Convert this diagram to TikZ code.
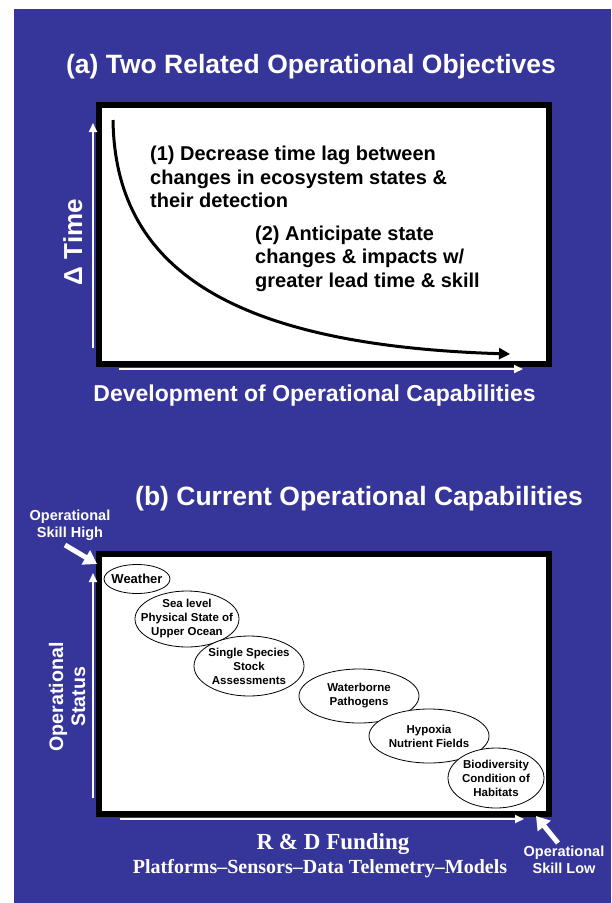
\documentclass[tikz,border=0pt]{standalone}
\usepackage{fontspec}
\setmainfont{Liberation Sans}
\newfontfamily\tmsfont{Liberation Serif}
\usetikzlibrary{arrows.meta,shapes.geometric}
\definecolor{bgblue}{RGB}{54,53,153}
\begin{document}
\begin{tikzpicture}[x=1pt,y=-1pt,
  wtxt/.style={text=white,inner sep=0pt},
  btxt/.style={text=black,inner sep=0pt,font=\fontsize{20}{24}\selectfont\bfseries,anchor=base west},
  panel/.style={draw=black,line width=6pt,fill=white,inner sep=0pt,rectangle},
  waxis/.style={draw=white,line width=2pt,-{Triangle[length=9pt,width=8pt]}},
  wpoint/.style={draw=white,line width=5pt,-{Triangle[length=13pt,width=16pt]}},
  oval/.style={ellipse,draw=black,line width=0.8pt,fill=white,inner sep=0pt},
  ovaltxt/.style={inner sep=0pt,align=center,font=\fontsize{11.5}{14}\selectfont\bfseries}
]
\useasboundingbox (0,0) rectangle (611,903);
\fill[white] (0,0) rectangle (611,903);
\fill[bgblue] (14,9) rectangle (611,903);

% ---------- panel (a) ----------
\node[wtxt,anchor=base,font=\fontsize{26.5}{30}\selectfont\bfseries] (ta) at (311,73) {(a) Two Related Operational Objectives};
\node[panel,minimum width=450,minimum height=259] (boxa) at (324,234.5) {};

\coordinate (c0) at (113,120);
\coordinate (c1) at (510,354);
\draw[line width=3pt,-{Triangle[length=11pt,width=11pt]}] (c0) .. controls (115,262) and (220,345) .. (c1);

\node[btxt] (l1) at (150,160) {(1) Decrease time lag between};
\node[btxt] (l2) at (150,184) {changes in ecosystem states \&};
\node[btxt] (l3) at (150,207) {their detection};
\node[btxt] (l4) at (255,240) {(2) Anticipate state};
\node[btxt] (l5) at (255,263) {changes \& impacts w/};
\node[btxt] (l6) at (255,287) {greater lead time \& skill};

\coordinate (ya0) at (93,348);
\coordinate (ya1) at (93,123);
\draw[waxis] (ya0) -- (ya1);
\coordinate (xa0) at (119,369);
\coordinate (xa1) at (523,369);
\draw[waxis] (xa0) -- (xa1);

\node[wtxt,anchor=base,rotate=90,font=\fontsize{26}{30}\selectfont\bfseries] (dt) at (82,242) {Δ Time};
\node[wtxt,anchor=base,font=\fontsize{23}{27}\selectfont\bfseries] (dev) at (314.5,401) {Development of Operational Capabilities};

% ---------- panel (b) ----------
\node[wtxt,anchor=base,font=\fontsize{26.5}{30}\selectfont\bfseries] (tb) at (359,505) {(b) Current Operational Capabilities};
\node[panel,minimum width=450,minimum height=260] (boxb) at (324,684) {};

\node[wtxt,anchor=base,font=\fontsize{14.5}{17}\selectfont\bfseries] (hi1) at (70,520) {Operational};
\node[wtxt,anchor=base,font=\fontsize{14.5}{17}\selectfont\bfseries] (hi2) at (70,537) {Skill High};
\coordinate (h0) at (65,545);
\coordinate (h1) at (97,564);
\draw[wpoint] (h0) -- (h1);

\coordinate (yb0) at (93,798);
\coordinate (yb1) at (93,573);
\draw[waxis] (yb0) -- (yb1);
\coordinate (xb0) at (120,819);
\coordinate (xb1) at (524,819);
\draw[waxis] (xb0) -- (xb1);

\node[wtxt,anchor=base,rotate=90,font=\fontsize{19.6}{22}\selectfont\bfseries] (os1) at (63,697) {Operational};
\node[wtxt,anchor=base,rotate=90,font=\fontsize{19.6}{22}\selectfont\bfseries] (os2) at (85,697) {Status};

\node[oval,minimum width=66,minimum height=29] (e1) at (137,579) {};
\node[inner sep=0pt,font=\fontsize{13}{15}\selectfont\bfseries] (t1) at (e1) {Weather};
\node[oval,minimum width=104,minimum height=56] (e2) at (187,619) {};
\node[ovaltxt] (t2) at (e2) {Sea level\\Physical State of\\Upper Ocean};
\node[oval,minimum width=110,minimum height=60] (e3) at (249,666) {};
\node[ovaltxt] (t3) at (e3) {Single Species\\Stock\\Assessments};
\node[oval,minimum width=120,minimum height=54] (e4) at (359,696) {};
\node[ovaltxt] (t4) at (e4) {Waterborne\\Pathogens};
\node[oval,minimum width=120,minimum height=54] (e5) at (429,736) {};
\node[ovaltxt] (t5) at (e5) {Hypoxia\\Nutrient Fields};
\node[oval,minimum width=96,minimum height=60] (e6) at (496,778) {};
\node[ovaltxt] (t6) at (e6) {Biodiversity\\Condition of\\Habitats};

\node[wtxt,anchor=base,font=\fontsize{23}{27}\selectfont\bfseries\tmsfont] (rd) at (333,849) {R \& D Funding};
\node[wtxt,anchor=base,font=\fontsize{20}{24}\selectfont\bfseries\tmsfont] (pl) at (320,873) {Platforms–Sensors–Data Telemetry–Models};

\node[wtxt,anchor=base,font=\fontsize{14.5}{17}\selectfont\bfseries] (lo1) at (564,856) {Operational};
\node[wtxt,anchor=base,font=\fontsize{14.5}{17}\selectfont\bfseries] (lo2) at (564,873) {Skill Low};
\coordinate (w0) at (558,843);
\coordinate (w1) at (536,816);
\draw[wpoint] (w0) -- (w1);
\end{tikzpicture}
\end{document}
